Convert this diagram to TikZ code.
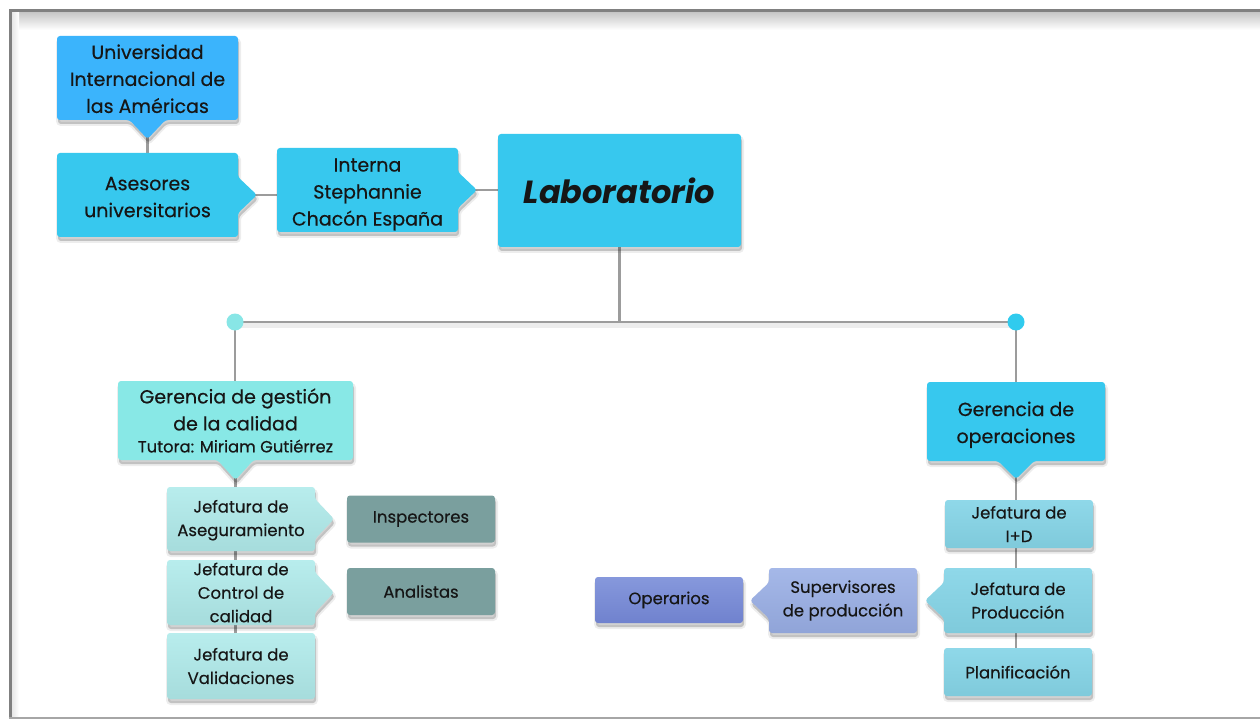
\documentclass[tikz,border=0pt]{standalone}
\usepackage{fontspec}
\setmainfont{Poppins}[UprightFeatures={FakeBold=0.4}]
\usetikzlibrary{calc,shadows}
\pgfdeclarelayer{lines}
\pgfdeclarelayer{bg}
\pgfsetlayers{lines,bg,main}
\definecolor{cuni}{HTML}{3BB4FC}
\definecolor{cmain}{HTML}{37C8EE}
\definecolor{cgq}{HTML}{88E8E6}
\definecolor{cdl}{HTML}{88E6E6}
\definecolor{cdr}{HTML}{30CBEE}
\definecolor{cjl}{HTML}{A6DCDC}
\definecolor{cjlt}{HTML}{B8EDED}
\definecolor{cgray}{HTML}{7A9F9E}
\definecolor{cjr}{HTML}{7FCADB}
\definecolor{cjrt}{HTML}{8FD8E9}
\definecolor{csup}{HTML}{90A4D8}
\definecolor{csupt}{HTML}{A5B8E8}
\definecolor{cop}{HTML}{7082CE}
\definecolor{copt}{HTML}{8698DC}
\definecolor{cline}{HTML}{9C9C9C}
\definecolor{ctext}{HTML}{161616}
\newcommand{\fs}[2]{\fontsize{#1}{#2}\selectfont}
\newcommand{\tall}[1]{\rule{0pt}{#1pt}}
\newcommand{\ShapeS}[4]{\path[#2] (#1.north west) -- (#1.north east) -- (#1.south east) -- ($(#1.south)+(#3,0)$) -- ($(#1.south)+(0,#4)$) -- ($(#1.south)+(-#3,0)$) -- (#1.south west) -- cycle;}
\newcommand{\ShapeE}[4]{\path[#2] (#1.north west) -- (#1.north east) -- ($(#1.east)+(0,-#3)$) -- ($(#1.east)+(#4,0)$) -- ($(#1.east)+(0,#3)$) -- (#1.south east) -- (#1.south west) -- cycle;}
\newcommand{\ShapeW}[4]{\path[#2] (#1.north west) -- (#1.north east) -- (#1.south east) -- (#1.south west) -- ($(#1.west)+(0,#3)$) -- ($(#1.west)+(-#4,0)$) -- ($(#1.west)+(0,-#3)$) -- cycle;}
\begin{document}
\begin{tikzpicture}[x=1pt,y=-1pt,
  sh/.style={drop shadow={shadow xshift=1pt, shadow yshift=-4pt, fill=black, draw=black, opacity=1, fill opacity=0.18, draw opacity=0.07, line width=4pt}},
  shp/.style={rounded corners=3pt, sh},
  tb/.style={rectangle, inner sep=0pt, outer sep=0pt, align=center, text=ctext, font=\fs{19}{27}},
  fb/.style={tb, rounded corners=3pt, sh},
  jl/.style={top color=cjlt, bottom color=cjl},
  jr/.style={top color=cjrt, bottom color=cjr},
  small/.style={font=\fs{16.5}{23.5}},
  conn/.style={draw=cline, line width=2.2pt},
  barshadow/.style={preaction={draw=black, draw opacity=0.07, line width=6pt, transform canvas={yshift=-3pt}}},
  dot/.style={circle, inner sep=0pt, outer sep=0pt, minimum size=17pt}]
\useasboundingbox (0,0) rectangle (1260,719);
% nodes
\node[tb, minimum width=181pt, minimum height=84pt] (uni) at (147.5,78) {\tall{16}Universidad\\Internacional de\\las Américas};
\node[tb, minimum width=181pt, minimum height=84pt] (ase) at (147.5,195) {\tall{17.5}Asesores\\universitarios};
\node[tb, minimum width=181pt, minimum height=84pt] (int) at (367.5,190) {\tall{22}Interna\\Stephannie\\Chacón España};
\node[fb, fill=cmain, minimum width=243pt, minimum height=113pt, font=\fs{32}{36}\bfseries\itshape] (lab) at (619.5,190.5) {Laboratorio};
\node[dot, fill=cdl] (dl) at (235,322) {};
\node[dot, fill=cdr] (dr) at (1016,322) {};
\node[tb, minimum width=235pt, minimum height=79pt] (gq) at (235.5,420.5) {Gerencia de gestión\\de la calidad\\[-5pt]\fs{16.3}{22}Tutora: Miriam Gutiérrez};
\node[tb, small, minimum width=148pt, minimum height=64pt] (ja) at (241,519) {\tall{15}Jefatura de\\Aseguramiento};
\node[tb, small, minimum width=148pt, minimum height=65pt] (jc) at (241,592.5) {Jefatura de\\Control de\\calidad};
\node[fb, small, jl, minimum width=148pt, minimum height=66pt] (jv) at (241,666) {Jefatura de\\Validaciones};
\node[fb, small, fill=cgray, minimum width=148pt, minimum height=47pt] (ins) at (421,519) {Inspectores};
\node[fb, small, fill=cgray, minimum width=148pt, minimum height=47pt] (ana) at (421,591.5) {Analistas};
\node[tb, minimum width=178pt, minimum height=79pt] (go) at (1016,421.5) {\tall{21}Gerencia de\\operaciones};
\node[fb, small, jr, minimum width=148pt, minimum height=48pt] (jid) at (1019,524) {Jefatura de\\I+D};
\node[tb, small, minimum width=148pt, minimum height=65pt] (jp) at (1018,600.5) {Jefatura de\\Producción};
\node[fb, small, jr, minimum width=148pt, minimum height=48pt] (pl) at (1018,672) {Planificación};
\node[tb, small, minimum width=148pt, minimum height=65pt] (sup) at (843,600.5) {Supervisores\\de producción};
\node[fb, small, top color=copt, bottom color=cop, minimum width=148pt, minimum height=46pt] (op) at (669,600) {Operarios};
% background, frame and connectors
\begin{pgfonlayer}{lines}
\fill[white] (0,0) rectangle (1260,719);
\shade[top color=black!22, bottom color=white] (11.5,12.5) rectangle (1260,30);
\shade[left color=black!10, right color=white] (11.5,12.5) rectangle (19,716);
\draw[line width=3pt, draw=black!50] (1260,11) -- (10,11) -- (10,717);
\draw[line width=2pt, draw=black!35] (8.5,718) -- (1260,718);
\draw[conn] (uni.south) -- (ase.north);
\draw[conn] (ase.east) -- (ase.east -| int.west);
\draw[conn] (int.east) -- (int.east -| lab.west);
\draw[conn] (lab.south) -- (lab.south |- dl.center);
\draw[conn, barshadow] (dl.center) -- (dr.center);
\draw[conn] (dl.center) -- (dl.center |- gq.north);
\draw[conn] (dr.center) -- (dr.center |- go.north);
\draw[conn] (gq.south) -- (gq.south |- jv.center);
\draw[conn] (go.south) -- (go.south |- pl.center);
\end{pgfonlayer}
% shapes with pointers
\begin{pgfonlayer}{bg}
\ShapeS{uni}{shp, fill=cuni}{18}{19}
\ShapeE{ase}{shp, fill=cmain}{18}{19}
\ShapeE{int}{shp, fill=cmain}{18}{19}
\ShapeS{gq}{shp, fill=cgq}{18}{20}
\ShapeE{ja}{shp, jl}{20}{19}
\ShapeE{jc}{shp, jl}{20}{19}
\ShapeS{go}{shp, fill=cmain}{18}{18}
\ShapeW{jp}{shp, jr}{18}{19}
\ShapeW{sup}{shp, top color=csupt, bottom color=csup}{18}{19}
\end{pgfonlayer}
\end{tikzpicture}
\end{document}
